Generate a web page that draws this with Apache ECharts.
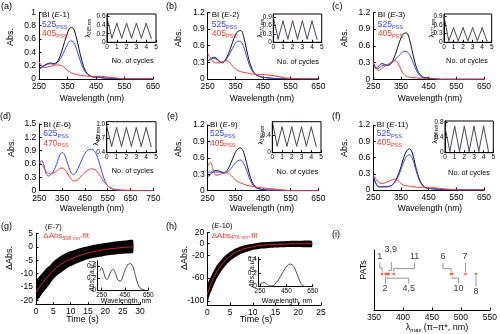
<!DOCTYPE html>
<html>
<head>
<meta charset="utf-8">
<script src="https://cdn.jsdelivr.net/npm/echarts@6/dist/echarts.min.js"></script>
<style>
  html, body { margin: 0; padding: 0; background: #fff; }
  #chart { width: 500px; height: 334px; }
</style>
</head>
<body>
<div id="chart"></div>
<script>
// ---------------- data ----------------
// UV-vis wavelengths (nm) shared by panels a, b, c, e, f
const wlUV = [250,260,270,280,290,300,310,320,330,340,350,360,370,380,390,400,410,420,430,440,450,470,490,510,530,550,600,650];

// (a) E-1
const aBI  = [0.16,0.18,0.21,0.23,0.24,0.23,0.24,0.30,0.42,0.56,0.69,0.77,0.76,0.64,0.46,0.28,0.15,0.08,0.05,0.03,0.03,0.02,0.01,0.01,0,0,0,0];
const a525 = [0.15,0.17,0.20,0.22,0.23,0.22,0.23,0.27,0.34,0.43,0.52,0.57,0.56,0.47,0.34,0.21,0.12,0.07,0.04,0.03,0.03,0.02,0.01,0.01,0,0,0,0];
const a405 = [0.26,0.20,0.17,0.18,0.19,0.20,0.21,0.21,0.20,0.17,0.13,0.10,0.08,0.07,0.06,0.05,0.05,0.04,0.04,0.04,0.04,0.04,0.03,0.02,0.01,0,0,0];

// (b) E-2
const bBI  = [0.32,0.36,0.39,0.38,0.33,0.30,0.32,0.40,0.52,0.66,0.79,0.86,0.87,0.76,0.54,0.33,0.18,0.10,0.06,0.04,0.03,0.02,0.01,0.01,0,0,0,0];
const b525 = [0.33,0.35,0.37,0.36,0.32,0.29,0.31,0.37,0.46,0.55,0.64,0.68,0.67,0.58,0.42,0.26,0.15,0.09,0.06,0.04,0.03,0.02,0.01,0.01,0,0,0,0];
const b405 = [0.46,0.38,0.31,0.29,0.29,0.30,0.32,0.33,0.29,0.23,0.18,0.15,0.13,0.12,0.11,0.10,0.09,0.09,0.08,0.08,0.08,0.07,0.06,0.04,0.02,0.01,0,0];

// (c) E-3
const cBI  = [0.28,0.20,0.24,0.28,0.27,0.25,0.26,0.33,0.45,0.60,0.74,0.82,0.83,0.73,0.52,0.31,0.16,0.08,0.04,0.03,0.02,0.01,0,0,0,0,0,0];
const c525 = [0.30,0.19,0.20,0.24,0.25,0.25,0.27,0.31,0.36,0.41,0.46,0.50,0.50,0.45,0.35,0.22,0.12,0.06,0.03,0.02,0.02,0.01,0,0,0,0,0,0];
const c405 = [0.32,0.20,0.16,0.19,0.23,0.26,0.29,0.32,0.33,0.28,0.17,0.09,0.05,0.04,0.03,0.03,0.02,0.02,0.02,0.01,0.01,0.01,0,0,0,0,0,0];

// (d) E-6, visible range
const wlVis = [250,260,270,280,290,300,310,320,330,340,350,360,370,380,390,400,410,420,430,440,450,460,470,480,490,500,510,520,530,540,550,560,570,580,600,620,650,700,750];
const d625 = [0.62,0.68,0.58,0.38,0.33,0.36,0.42,0.52,0.66,0.80,0.86,0.82,0.68,0.52,0.40,0.36,0.40,0.50,0.62,0.74,0.84,0.90,0.93,0.93,0.90,0.82,0.68,0.50,0.33,0.20,0.11,0.06,0.04,0.02,0.01,0.01,0,0,0];
const d470 = [0.65,0.60,0.52,0.43,0.39,0.39,0.40,0.42,0.46,0.50,0.51,0.49,0.42,0.33,0.26,0.22,0.22,0.25,0.30,0.36,0.41,0.45,0.48,0.49,0.48,0.45,0.39,0.31,0.23,0.16,0.11,0.07,0.05,0.03,0.02,0.01,0.01,0,0];

// (e) E-9
const eBI  = [0.25,0.30,0.35,0.37,0.36,0.34,0.33,0.37,0.46,0.58,0.70,0.77,0.78,0.70,0.52,0.32,0.17,0.09,0.05,0.03,0.02,0.01,0.01,0,0,0,0,0];
const e525 = [0.33,0.34,0.34,0.34,0.34,0.34,0.33,0.34,0.38,0.44,0.51,0.55,0.56,0.50,0.38,0.24,0.13,0.07,0.04,0.03,0.02,0.01,0.01,0,0,0,0,0];
const e405 = [0.45,0.52,0.38,0.28,0.29,0.31,0.32,0.33,0.30,0.25,0.20,0.16,0.14,0.12,0.10,0.09,0.08,0.07,0.06,0.06,0.05,0.04,0.03,0.02,0.01,0,0,0];

// (f) E-11
const fBI  = [0.25,0.12,0.06,0.06,0.06,0.06,0.07,0.10,0.17,0.28,0.43,0.60,0.72,0.76,0.70,0.50,0.30,0.16,0.08,0.04,0.03,0.02,0.01,0,0,0,0,0];
const f525 = [0.26,0.11,0.06,0.06,0.06,0.06,0.07,0.10,0.16,0.25,0.38,0.52,0.62,0.65,0.60,0.44,0.27,0.14,0.07,0.04,0.03,0.02,0.01,0,0,0,0,0];
const f405 = [0.28,0.20,0.14,0.12,0.13,0.15,0.17,0.19,0.20,0.17,0.12,0.09,0.08,0.07,0.06,0.06,0.05,0.05,0.05,0.04,0.04,0.04,0.03,0.02,0.01,0,0,0];

// photo-switching cycles (insets)
const cycles = [0,0.5,1,1.5,2,2.5,3,3.5,4,4.5];
const cycA = [0.57,0.10,0.44,0.10,0.44,0.10,0.44,0.10,0.44,0.10];
const cycB = [0.88,0.12,0.75,0.12,0.75,0.12,0.75,0.12,0.75,0.12];
const cycC = [0.88,0.05,0.50,0.05,0.50,0.05,0.50,0.05,0.50,0.05];
const cycD = [0.95,0.52,0.92,0.52,0.92,0.52,0.92,0.52,0.92,0.52];
const cycE = [0.72,0.15,0.58,0.15,0.58,0.15,0.58,0.15,0.58,0.15];
const cycF = [0.66,0.04,0.68,0.04,0.68,0.04,0.68,0.04,0.68,0.04];

// (g) E-7 thermal recovery: noisy trace envelope and fit
const gT     = [0,0.15,0.3,1,2,3,4,5,6,7,8,10,12,14,16,18,20,22,24,26,28];
const gUpper = [-12.5,-1,-12,-11,-9.5,-8,-7,-5.5,-4.5,-3.5,-2.8,-1.6,-0.8,-0.1,0.5,1,1.4,1.8,2.1,2.3,2.5];
const gLower = [-20.5,-20.5,-20,-19,-17,-15.5,-13.8,-12,-10.8,-9.8,-8.8,-7.2,-6,-5,-4.3,-3.8,-3.3,-3,-2.7,-2.5,-2.2];
const gFitT  = [0,1,2,3,4,5,6,7,8,10,12,14,16,18,20,22,24,26,28];
const gFit   = [-17,-15,-13.3,-11.7,-10.2,-8.7,-7.6,-6.6,-5.8,-4.6,-3.5,-2.7,-2.0,-1.5,-1.0,-0.7,-0.4,-0.2,0];
const gSpecWl  = [235,250,265,280,295,310,330,350,370,390,410,430,460,490,510,530,550,570,590,620];
const gSpecAbs = [0.33,0.38,0.32,0.22,0.18,0.22,0.32,0.35,0.28,0.17,0.15,0.22,0.38,0.45,0.43,0.32,0.17,0.06,0.02,0];

// (h) E-10 thermal recovery
const hT     = [0,0.5,1,2,3,4,5,6,7,8,10,12,15,18,20,23];
const hUpper = [-72,-62,-54,-39,-29,-20,-14,-9,-5.5,-3,0,2.5,4,5,5,5];
const hLower = [-104,-90,-80,-62,-49,-38,-30,-24,-19,-16,-11,-8.5,-6.5,-5.5,-5.5,-5.5];
const hFitT  = [0,1,2,3,4,5,6,7,8,10,12,15,18,20,23];
const hFit   = [-89,-66,-50,-38,-29,-22,-16,-12,-9,-5,-2.5,-1,-0.3,0,0];
const hSpecWl  = [240,260,280,300,320,340,360,390,420,450,475,500,520,540,560,580,610];
const hSpecAbs = [0.03,0.05,0.06,0.04,0.01,0.01,0.03,0.10,0.20,0.29,0.33,0.31,0.24,0.14,0.05,0.01,0];

// (i) lambda max of the PATs
const patNames  = ['1','2','3,9','4,5','11','6','10','7','8'];
const patLambda = [364,370,375.5,373,384,483,485,508,526];

// ---------------- styling ----------------
const FONT = '"Liberation Sans", Arial, sans-serif';
const BLACK = '#111', BLUE = '#3346f6', RED = '#f23a2c', GREY = '#8a8a8a';

const grids = [], xAxes = [], yAxes = [], series = [], texts = [];

function axisDef(gi, range, ticks, fs, fmt, margin, showLabels) {
  return {
    type: 'value', gridIndex: gi, min: range[0], max: range[1],
    axisLine: { show: true, onZero: false, lineStyle: { color: '#000', width: 1 } },
    axisTick: { show: ticks.length > 0, inside: true, length: 2.5, customValues: ticks, lineStyle: { color: '#000', width: 1 } },
    axisLabel: { show: showLabels !== false && ticks.length > 0, customValues: ticks, formatter: fmt,
                 color: '#000', fontSize: fs, fontFamily: FONT, margin: margin },
    splitLine: { show: false }
  };
}

function panel(p) {
  const gi = grids.length;
  grids.push({ left: p.left, top: p.top, width: p.w, height: p.h, show: !!p.box,
               borderColor: '#000', borderWidth: 1, backgroundColor: p.box ? '#fff' : 'transparent' });
  const fs = p.fs || 8.5, m = p.m || 3;
  xAxes.push(axisDef(gi, p.x, p.xt, fs, p.xf, m));
  yAxes.push(axisDef(gi, p.y, p.yt, fs, p.yf, m, p.yLabels));
  return gi;
}

function curve(gi, xs, ys, color, width, extra) {
  series.push(Object.assign({
    type: 'line', xAxisIndex: gi, yAxisIndex: gi,
    data: xs.map((x, i) => [x, ys[i]]), showSymbol: false, smooth: 0.35,
    lineStyle: { color: color, width: width || 1 }, silent: true, animation: false
  }, extra || {}));
}

function cycleTrace(gi, ys) {
  curve(gi, cycles, ys, '#333', 0.9, { smooth: false, showSymbol: true, symbol: 'circle', symbolSize: 1.6,
    itemStyle: { color: '#b24a8c' } });
}

function band(gi, ts, lo, hi) {
  series.push({
    type: 'custom', xAxisIndex: gi, yAxisIndex: gi, coordinateSystem: 'cartesian2d',
    data: [[ts[0], lo[0]]], silent: true, animation: false, clip: true,
    renderItem: function (params, api) {
      const pts = [];
      for (let i = 0; i < ts.length; i++) pts.push(api.coord([ts[i], hi[i]]));
      for (let i = ts.length - 1; i >= 0; i--) pts.push(api.coord([ts[i], lo[i]]));
      return { type: 'polygon', shape: { points: pts, smooth: 0.15 }, style: { fill: '#000' } };
    }
  });
}

function rich(fs, color) {
  const sub = Math.round(fs * 0.66 * 10) / 10;
  return {
    n: { fontSize: fs, fill: color, color: color, fontFamily: FONT },
    i: { fontSize: fs, fill: color, color: color, fontFamily: FONT, fontStyle: 'italic' },
    s: { fontSize: sub, fill: color, color: color, fontFamily: FONT, verticalAlign: 'bottom', padding: [0, 0, -1, 0] }
  };
}

function text(x, y, str, o) {
  o = o || {};
  const fs = o.fs || 8.5, color = o.color || '#000';
  texts.push({
    type: 'text', x: x, y: y, rotation: o.rot || 0, silent: true, z: 100,
    style: { text: str, fill: color, fontSize: fs, fontFamily: FONT,
             fontStyle: o.italic ? 'italic' : 'normal',
             align: o.align || 'center', verticalAlign: 'middle', rich: rich(fs, color) }
  });
}

const UP = Math.PI / 2;

// ---------------- spectral panels ----------------
const xtUV = [250,350,450,550,650];
const ytA = [0,0.2,0.4,0.6,0.8,1];
const yt12 = [0,0.3,0.6,0.9,1.2];
const cyc5 = [0,1,2,3,4,5];

const A = panel({ left: 39, top: 12.3, w: 114, h: 66.7, x: [250,650], xt: xtUV, y: [0,1], yt: ytA });
const B = panel({ left: 207.7, top: 12.3, w: 110.6, h: 66.7, x: [250,650], xt: xtUV, y: [0,1.2], yt: yt12 });
const C = panel({ left: 373.3, top: 12.3, w: 110.7, h: 67, x: [250,650], xt: xtUV, y: [0,1.2], yt: yt12 });
const D = panel({ left: 39.3, top: 124, w: 114, h: 66.7, x: [250,750], xt: [250,350,450,550,650,750], y: [0,1.5], yt: [0,0.3,0.6,0.9,1.2,1.5] });
const E = panel({ left: 207.7, top: 125, w: 110.6, h: 65.7, x: [250,650], xt: xtUV, y: [0,1.2], yt: yt12 });
const F = panel({ left: 373.3, top: 125, w: 110.7, h: 65, x: [250,650], xt: xtUV, y: [0,1.2], yt: yt12 });

curve(A, wlUV, aBI, BLACK); curve(A, wlUV, a525, BLUE); curve(A, wlUV, a405, RED);
curve(B, wlUV, bBI, BLACK); curve(B, wlUV, b525, BLUE); curve(B, wlUV, b405, RED);
curve(C, wlUV, cBI, BLACK); curve(C, wlUV, c525, BLUE); curve(C, wlUV, c405, RED);
curve(D, wlVis, d625, BLUE); curve(D, wlVis, d470, RED);
curve(E, wlUV, eBI, BLACK); curve(E, wlUV, e525, BLUE); curve(E, wlUV, e405, RED);
curve(F, wlUV, fBI, BLACK); curve(F, wlUV, f525, BLUE); curve(F, wlUV, f405, RED);

// cycle insets
const insetCommon = { box: true, fs: 6.5, m: 1.5, x: [0,5], xt: cyc5 };
const iA = panel(Object.assign({ left: 107, top: 14, w: 49, h: 28.3, y: [0,0.66], yt: [0,0.2,0.4,0.6] }, insetCommon));
const iB = panel(Object.assign({ left: 273.3, top: 14, w: 48.4, h: 28.3, y: [0,1.0], yt: [0,0.3,0.6,0.9] }, insetCommon));
const iC = panel(Object.assign({ left: 444, top: 14, w: 47.7, h: 28.3, y: [0,0.97], yt: [0,0.3,0.6,0.9] }, insetCommon));
const iD = panel(Object.assign({ left: 106.7, top: 121.7, w: 49.3, h: 31, y: [0.38,1.05], yt: [0.4,0.7,1.0], yf: v => v.toFixed(1) }, insetCommon));
const iE = panel(Object.assign({ left: 272.3, top: 121.7, w: 48.7, h: 31, y: [0,0.7], yt: [0,0.4] }, insetCommon));
const iF = panel(Object.assign({ left: 445, top: 121, w: 48.3, h: 31.7, y: [0,0.82], yt: [0,0.4,0.8] }, insetCommon));
cycleTrace(iA, cycA); cycleTrace(iB, cycB); cycleTrace(iC, cycC);
cycleTrace(iD, cycD); cycleTrace(iE, cycE); cycleTrace(iF, cycF);

// ---------------- kinetics ----------------
const G = panel({ left: 36, top: 233.3, w: 104, h: 71.3, x: [0,30], xt: [0,5,10,15,20,25,30], y: [-21.5,5], yt: [-20,-15,-10,-5,0,5] });
const H = panel({ left: 207.3, top: 232.3, w: 113.7, h: 72.7, x: [0,25], xt: [0,5,10,15,20,25], y: [-107,20], yt: [-100,-60,-20,0,20] });
band(G, gT, gLower, gUpper);
curve(G, gFitT, gFit, '#d8262a', 1, { z: 5 });
band(H, hT, hLower, hUpper);
curve(H, hFitT, hFit, '#d8262a', 1, { z: 5 });

const iG = panel({ left: 97.5, top: 260.7, w: 50.8, h: 29.3, fs: 6.5, m: 1.5, x: [215,650], xt: [250,450,650], y: [0,0.5], yt: [0,0.2,0.4] });
const iH = panel({ left: 258.3, top: 257.3, w: 54.4, h: 29.4, fs: 6.5, m: 1.5, x: [237,650], xt: [250,450,650], y: [0,0.43], yt: [0,0.2,0.4] });
curve(iG, gSpecWl, gSpecAbs, '#333', 0.9, { smooth: 0.4 });
curve(iH, hSpecWl, hSpecAbs, '#333', 0.9, { smooth: 0.4 });

// ---------------- (i) lambda max map ----------------
const I = panel({ left: 374, top: 250, w: 118, h: 60, x: [350,550], xt: [350,400,450,500,550], y: [0,1], yt: [] });
const ROW = 0.6;
// label placement and elbow connectors (data units of panel i)
const patNotes = {
  '1':   { at: [360, 0.89], path: [[364,0.64],[364,0.7],[360,0.7],[360,0.79]] },
  '3,9': { at: [379, 1.0],  path: [[375.5,0.64],[375.5,0.66],[380,0.66],[380,0.8]] },
  '11':  { at: [420, 0.89], path: [[384,0.64],[384,0.69],[420,0.69],[420,0.79]] },
  '6':   { at: [469, 0.89], path: [[483,0.64],[483,0.69],[469,0.69],[469,0.79]] },
  '7':   { at: [507, 0.89], path: [[508,0.64],[508,0.79]] },
  '2':   { at: [369, 0.36], path: [[370,0.56],[370,0.44]] },
  '4,5': { at: [410, 0.36], path: [[373,0.56],[373,0.53],[410,0.53],[410,0.44]] },
  '10':  { at: [496, 0.36], path: [[485,0.56],[485,0.53],[496,0.53],[496,0.44]] },
  '8':   { at: [526, 0.3],  path: [[526,0.56],[526,0.39]] }
};
series.push({
  type: 'lines', coordinateSystem: 'cartesian2d', xAxisIndex: I, yAxisIndex: I, polyline: true,
  silent: true, animation: false, symbol: ['none', 'arrow'], symbolSize: 3,
  lineStyle: { color: GREY, width: 0.9, opacity: 1 },
  data: patNames.map(n => ({ coords: patNotes[n].path }))
});
series.push({
  type: 'scatter', xAxisIndex: I, yAxisIndex: I, symbol: 'rect', symbolSize: 2.4, silent: true, animation: false,
  itemStyle: { color: '#ee4a2e' }, z: 6,
  data: patLambda.map(v => [v, ROW])
});
series.push({
  type: 'scatter', xAxisIndex: I, yAxisIndex: I, symbolSize: 0, silent: true, animation: false,
  label: { show: true, position: 'inside', formatter: p => p.name, color: '#000', fontSize: 9, fontFamily: FONT },
  data: patNames.map(n => ({ name: n, value: patNotes[n].at }))
});

// ---------------- text ----------------
[['(a)',1,7],['(b)',166,7],['(c)',332,7],['(d)',0,116.5],['(e)',167,116.5],['(f)',332,116.5],
 ['(g)',1,226.5],['(h)',166,226.5],['(i)',332,235]].forEach(t => text(t[1], t[2], t[0], { align: 'left', fs: 9 }));

function legend(x, y, tag, lines) {
  text(x, y, '{n|BI (}{i|E}{n|-' + tag + ')}', { align: 'left', fs: 8 });
  lines.forEach((l, k) => text(x, l[1], '{n|' + l[0] + '}{s|PSS}', { align: 'left', fs: 8.5, color: l[2] }));
}
legend(42, 15, '1', [['525', 25, BLUE], ['405', 33.5, RED]]);
legend(211.7, 15, '2', [['525', 25, BLUE], ['405', 34, RED]]);
legend(377.7, 15, '3', [['525', 24.5, BLUE], ['405', 33.5, RED]]);
legend(43.3, 125, '6', [['625', 134, BLUE], ['470', 143.3, RED]]);
legend(210, 125, '9', [['525', 134, BLUE], ['405', 143.3, RED]]);
legend(376.7, 125, '11', [['525', 133.5, BLUE], ['405', 142.5, RED]]);

// axis titles
[[11,37],[178.3,38],[345,38],[11.5,148],[179,148],[345,148]].forEach(p => text(p[0], p[1], 'Abs.', { rot: UP, fs: 9 }));
[[92,99],[262,99],[430,99],[92,209],[262,209],[430,209]].forEach(p => text(p[0], p[1], 'Wavelength (nm)', { fs: 8.5 }));
[[132.7,61],[298,61.5],[467,61],[132.7,171],[297.5,171.5],[469,172.5]].forEach(p => text(p[0], p[1], 'No. of cycles', { fs: 7.3 }));
[[88,28,'365'],[260.5,28,'370'],[432,28,'371'],[96.5,136,'482'],[261,135,'380'],[435,134,'384']]
  .forEach(p => text(p[0], p[1], '{n|λ}{s|' + p[2] + ' nm}', { rot: UP, fs: 7 }));

text(9.5, 258, 'ΔAbs.', { rot: UP, fs: 9 });
text(185, 258, 'ΔAbs.', { rot: UP, fs: 9 });
text(82.5, 320, 'Time (s)', { fs: 9 });
text(256, 320, 'Time (s)', { fs: 9 });
text(45, 226.5, '{n|(}{i|E}{n|-7)}', { align: 'left', fs: 7.5 });
text(43.3, 236, '{n|ΔAbs}{s|508 nm}{n|-fit}', { align: 'left', fs: 8, color: RED });
text(211.7, 226, '{n|(}{i|E}{n|-10)}', { align: 'left', fs: 7.5 });
text(211.7, 235.5, '{n|ΔAbs}{s|476 nm}{n|-fit}', { align: 'left', fs: 8, color: RED });
text(92.5, 276, 'Abs. (a.u.)', { rot: UP, fs: 6.8, italic: true });
text(126, 301.5, 'Wavelength, nm', { fs: 7 });
text(252, 272, 'Abs. (a.u.)', { rot: UP, fs: 6.8, italic: true });
text(287, 300.7, 'Wavelength, nm', { fs: 7 });

text(363.5, 270, 'PATs', { rot: UP, fs: 9 });
text(437, 328, '{n|λ}{s|max}{n| (π–π*, nm)}', { fs: 9 });

// ---------------- chart ----------------
const chart = echarts.init(document.getElementById('chart'), null, { renderer: 'canvas' });
chart.setOption({
  animation: false,
  grid: grids, xAxis: xAxes, yAxis: yAxes, series: series,
  graphic: { elements: texts }
});
</script>
</body>
</html>
